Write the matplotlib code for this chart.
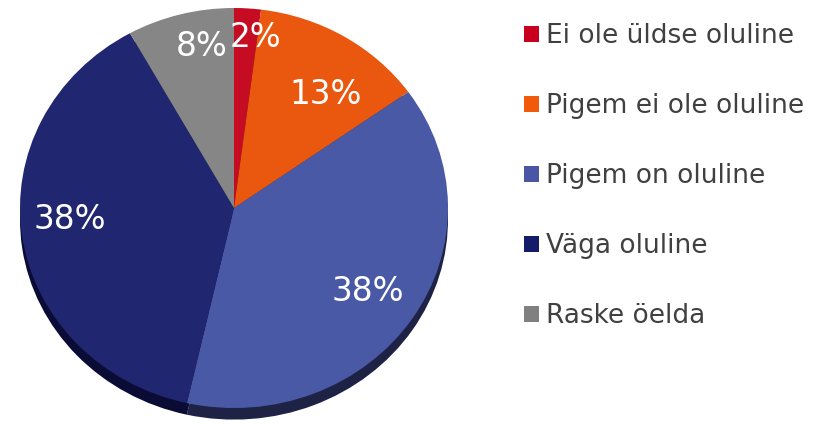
import numpy as np
import matplotlib
matplotlib.use("Agg")
import matplotlib.pyplot as plt
from matplotlib.patches import Patch

#-----------------------------------#
categories = ["Ei ole üldse oluline", "Pigem ei ole oluline", "Pigem on oluline",
              "Väga oluline", "Raske öelda"]
values = [2, 13, 38, 38, 8]
pct_labels = ["2%", "13%", "38%", "38%", "8%"]
#-----------------------------------#

colors = ["#C50C22", "#EA570F", "#4A59A6", "#20266F", "#868686"]
shadow_colors = ["#5a0510", "#6a2806", "#1e2346", "#0a0c35", "#3a3a3a"]
legend_colors = ["#C8001E", "#F05A0A", "#4B55A5", "#141C6A", "#808080"]
# label placement per slice: radius and angle shift (deg) from the slice middle
label_r = [0.856, 0.71, 0.75, 0.77, 0.82]
label_shift = [-3, -6, 0, -4, -4]

W, H = 823, 424
fig = plt.figure(figsize=(W / 100, H / 100), dpi=100)

# pie axes in pixel box (left, top, right, bottom)
x0, y0, x1, y1 = 20, 8, 448, 420
ax = fig.add_axes([x0 / W, 1 - y1 / H, (x1 - x0) / W, (y1 - y0) / H])

# 3D edge: darker copy of the pie shifted down
ax.pie(values, colors=shadow_colors, startangle=90, counterclock=False,
       center=(0, -0.058), radius=1, frame=True,
       wedgeprops=dict(linewidth=0))
wedges, _ = ax.pie(values, colors=colors, startangle=90, counterclock=False,
                   radius=1, frame=True, wedgeprops=dict(linewidth=0))
ax.set_xlim(-1, 1)
ax.set_ylim(-1.06, 1)
ax.set_aspect("auto")
ax.axis("off")

for w, lab, r, s in zip(wedges, pct_labels, label_r, label_shift):
    ang = np.radians((w.theta1 + w.theta2) / 2 + s)
    ax.text(r * np.cos(ang), r * np.sin(ang), lab, color="white",
            fontsize=23.5, ha="center", va="center")

handles = [Patch(facecolor=c, edgecolor="none") for c in legend_colors]
fig.legend(handles, categories, loc="upper left",
           bbox_to_anchor=(524 / W, 1 - 23 / H), frameon=False,
           fontsize=19, labelcolor="#404040", handlelength=0.57,
           handleheight=0.57, handletextpad=0.25, labelspacing=1.67,
           borderpad=0, borderaxespad=0)

fig.savefig("out.png", dpi=100)
